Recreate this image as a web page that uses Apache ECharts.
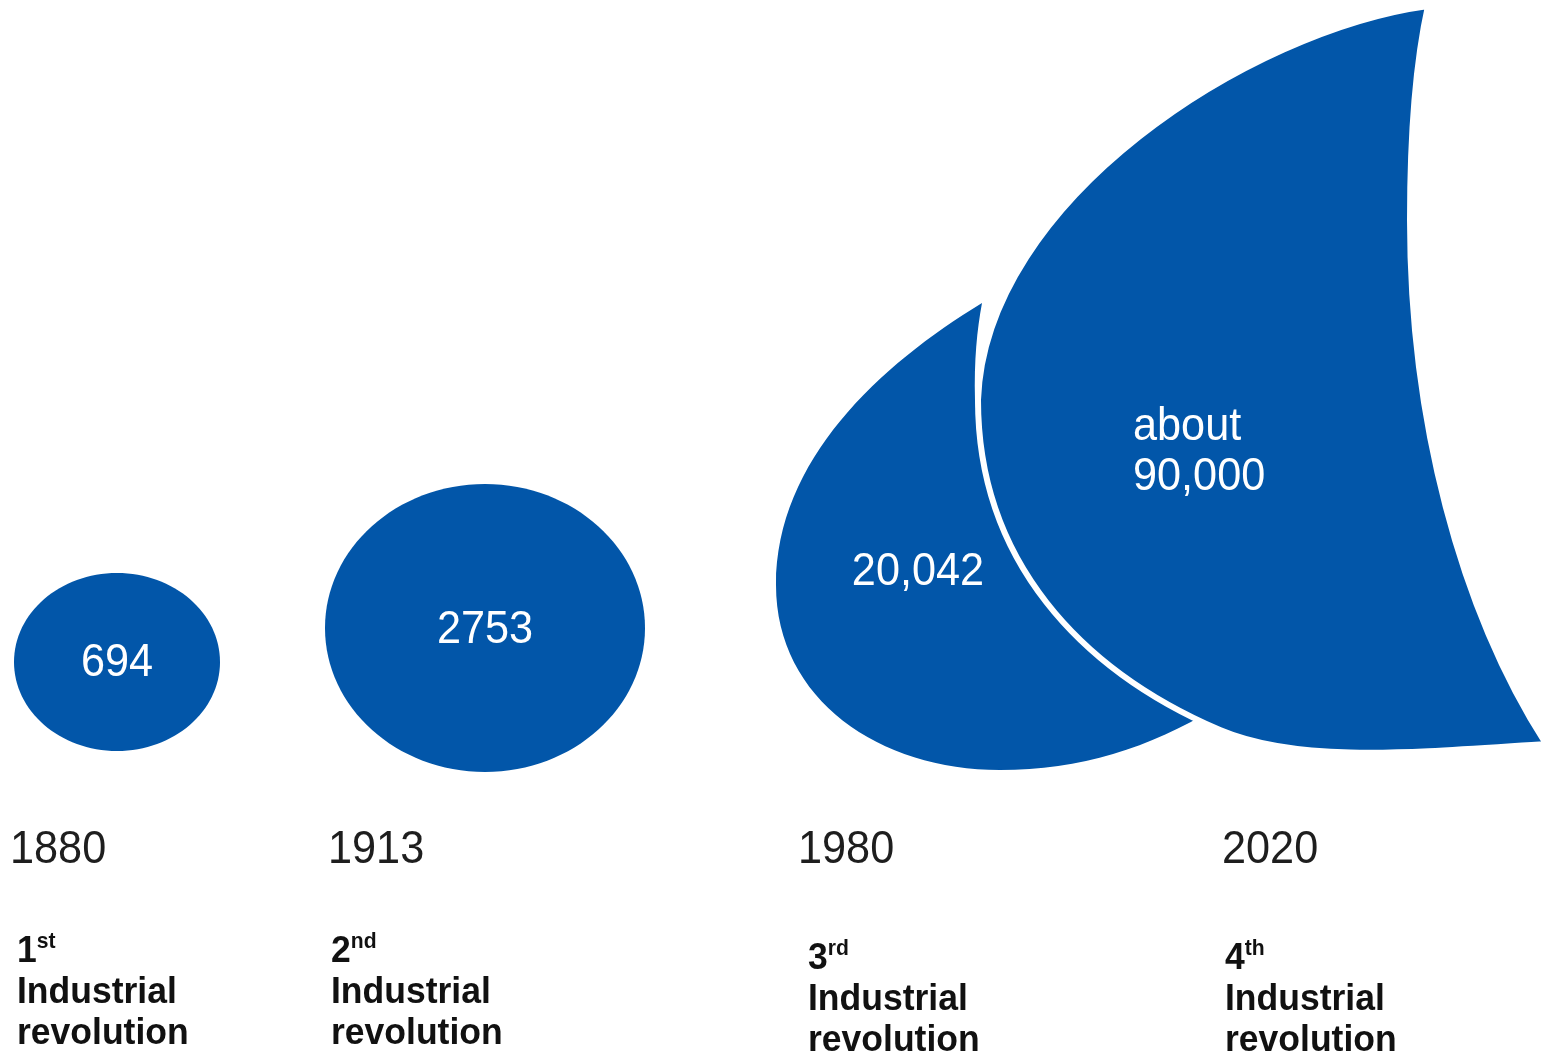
<!DOCTYPE html>
<html>
<head>
<meta charset="utf-8">
<title>Industrial revolutions</title>
<script src="https://cdn.jsdelivr.net/npm/echarts@6/dist/echarts.min.js"></script>
<style>
  html, body { margin: 0; padding: 0; background: #fff; }
  #main { width: 1546px; height: 1054px; }
</style>
</head>
<body>
<div id="main"></div>
<script>
// data
const years = ['1880', '1913', '1980', '2020']
const values = [694, 2753, 20042, 90000]
const valueLabels = ['694', '2753', '20,042', 'about\n90,000']
const ordinals = ['1', '2', '3', '4']
const suffixes = ['st', 'nd', 'rd', 'th']

const BLUE = '#0256a9'
const FONT = '"Liberation Sans", Arial, Helvetica, sans-serif'

// layout in axis units (the grid maps 1 unit to 1 px)
const layout = [
  { shape: 'ellipse', cx: 117, cy: 662, rx: 103, ry: 89, lx: 117, ly: 663, align: 'center', yearX: 10, ordX: 17, ordY: 931 },
  { shape: 'ellipse', cx: 485, cy: 628, rx: 160, ry: 144, lx: 485, ly: 630, align: 'center', yearX: 328, ordX: 331, ordY: 931 },
  { shape: 'teardrop', lx: 918, ly: 572, align: 'center', yearX: 798, ordX: 808, ordY: 938 },
  { shape: 'fin', lx: 1133, ly: 452, align: 'left', yearX: 1222, ordX: 1225, ordY: 938 }
]

// outlines as start point + cubic segments [cp1, cp2, end]
const outlines = {
  teardrop: [
    [982, 303],
    [[880, 365], [776, 460], [776, 585]],
    [[776, 700], [880, 770], [1000, 770]],
    [[1080, 770], [1150, 748], [1215, 708]],
    [[1100, 660], [990, 560], [975, 400]],
    [[974, 360], [977, 330], [982, 303]]
  ],
  fin: [
    [1428, 6],
    [[1250, 30], [985, 200], [978, 400]],
    [[978, 560], [1080, 670], [1220, 730]],
    [[1300, 764], [1420, 752], [1546, 744]],
    [[1460, 610], [1410, 420], [1410, 220]],
    [[1410, 130], [1416, 60], [1428, 6]]
  ]
}

function buildPath(api, segs) {
  const p0 = api.coord(segs[0])
  let d = 'M' + p0[0] + ' ' + p0[1]
  for (let i = 1; i < segs.length; i++) {
    const pts = segs[i].map((pt) => api.coord(pt))
    d += ' C' + pts.map((p) => p[0] + ' ' + p[1]).join(' ')
  }
  return d + ' Z'
}

function renderItem(params, api) {
  const i = params.dataIndex
  const lay = layout[i]
  const children = []

  if (lay.shape === 'ellipse') {
    const c = api.coord([lay.cx, lay.cy])
    const s = api.size([lay.rx, lay.ry])
    children.push({ type: 'ellipse', shape: { cx: c[0], cy: c[1], rx: s[0], ry: s[1] }, style: { fill: BLUE } })
  } else {
    const isFin = lay.shape === 'fin'
    children.push({
      type: 'path',
      shape: { pathData: buildPath(api, outlines[lay.shape]) },
      style: { fill: BLUE, stroke: isFin ? '#fff' : null, lineWidth: isFin ? 6 : 0 }
    })
  }

  // value inside the shape
  const lp = api.coord([lay.lx, lay.ly])
  children.push({
    type: 'text', x: lp[0], y: lp[1], scaleX: 0.94,
    style: {
      text: valueLabels[i], fill: '#fff', font: '46px ' + FONT,
      align: lay.align, verticalAlign: 'middle', lineHeight: 50
    }
  })

  // year
  const yp = api.coord([lay.yearX, 850])
  children.push({
    type: 'text', x: yp[0], y: yp[1], scaleX: 0.94,
    style: { text: years[i], fill: '#1e1e1e', font: '46px ' + FONT, align: 'left', verticalAlign: 'middle' }
  })

  // ordinal block
  const op = api.coord([lay.ordX, lay.ordY])
  children.push({
    type: 'text', x: op[0], y: op[1], scaleX: 0.96,
    style: {
      text: '{n|' + ordinals[i] + '}{s|' + suffixes[i] + '}\n{b|Industrial}\n{b|revolution}',
      align: 'left', verticalAlign: 'top',
      rich: {
        n: { font: 'bold 37px ' + FONT, lineHeight: 41, fill: '#111' },
        s: { font: 'bold 22px ' + FONT, lineHeight: 26, verticalAlign: 'top', fill: '#111' },
        b: { font: 'bold 37px ' + FONT, lineHeight: 41, fill: '#111' }
      }
    }
  })

  return { type: 'group', children: children }
}

const chart = echarts.init(document.getElementById('main'))
chart.setOption({
  animation: false,
  grid: { left: 0, right: 0, top: 0, bottom: 0 },
  xAxis: { type: 'value', min: 0, max: 1546, show: false },
  yAxis: { type: 'value', min: 0, max: 1054, inverse: true, show: false },
  series: [
    {
      type: 'custom',
      renderItem: renderItem,
      data: years.map((y, i) => [i, values[i]]),
      clip: false,
      silent: true
    }
  ]
})
</script>
</body>
</html>
